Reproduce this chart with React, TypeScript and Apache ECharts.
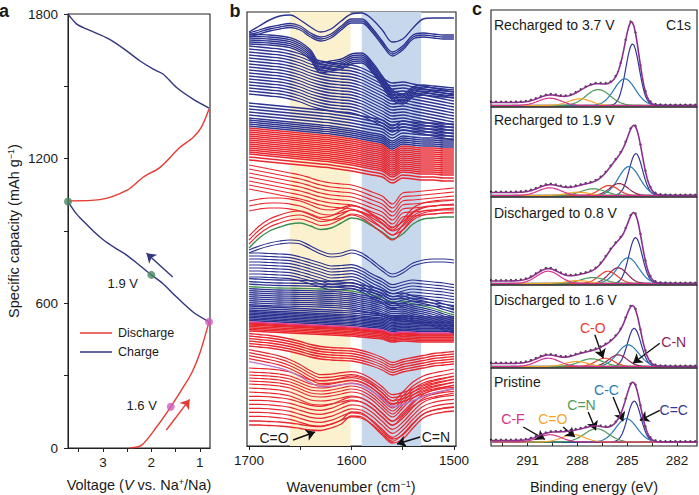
import React, { useEffect, useRef } from 'react';
import * as echarts from 'echarts';

const FONT = '"Liberation Sans", Arial, Helvetica, sans-serif';
const INK = '#1a1a1a';

// ---------- Panel a: voltage profile (V, cumulative capacity mAh/g) ----------
const DISCHARGE_1 = [[2.44, 0], [2.2, 12], [1.89, 88], [1.6, 171], [1.38, 240], [1.17, 310], [1.0, 393], [0.81, 523]];
const CHARGE_1 = [[0.81, 523], [1.14, 564], [1.48, 626], [1.76, 681], [2.0, 718], [2.24, 757], [2.51, 800], [2.75, 830], [3.0, 865], [3.2, 900], [3.4, 940], [3.55, 972], [3.72, 1022]];
const DISCHARGE_2 = [[3.72, 1025], [3.06, 1030], [2.51, 1068], [2.17, 1123], [1.82, 1164], [1.41, 1247], [1.14, 1288], [0.97, 1330], [0.81, 1406]];
const CHARGE_2 = [[0.81, 1410], [1.14, 1447], [1.48, 1495], [1.76, 1551], [1.96, 1571], [2.24, 1606], [2.51, 1647], [2.86, 1695], [3.34, 1738], [3.54, 1758], [3.72, 1800]];
const GREEN_POINTS = [[3.72, 1022], [2.0, 718]];
const PINK_POINTS = [[0.81, 523], [1.6, 171]];
const A_X_LABELS = [1, 2, 3];
const A_X_TICKS = [1, 1.5, 2, 2.5, 3, 3.5];
const A_Y_LABELS = [0, 600, 1200, 1800];
const A_Y_TICKS = [0, 300, 600, 900, 1200, 1500, 1800];

// ---------- Panel b: stacked in-situ FTIR spectra ----------
const WAVENUMBERS = [1700, 1690, 1680, 1670, 1660, 1650, 1640, 1630, 1620, 1610, 1600, 1590, 1580, 1570, 1560, 1550, 1540, 1530, 1520, 1510, 1500];
const B_X_LABELS = [1500, 1600, 1700];
const B_X_TICKS = [1500, 1550, 1600, 1650, 1700];
// representative spectra (stack height units)
const D1_PRISTINE = [21, 21, 20.5, 20, 19, 17.5, 16, 15.5, 18, 22, 30, 29, 21, 11, 3, 7, 18, 28, 32, 34, 35];
const D1_LOW = [33.7, 33.7, 33.2, 32.2, 30.7, 27.7, 24.7, 23.7, 25.7, 29.7, 33.2, 31.7, 25.7, 16.7, 8.7, 15.7, 26.7, 35.7, 39.7, 41.7, 42.7];
const D1_MID = [54, 53.5, 53, 52, 50, 46, 42, 41, 42, 44, 46, 44, 38, 29, 21, 30, 40, 46, 49, 51, 53];
const D1_16V = [84.3, 82.3, 80.3, 77.8, 74.3, 69.3, 63.3, 59.3, 59.8, 61.3, 62.3, 60.3, 54.8, 47.3, 39.3, 41.3, 45.3, 49.3, 52.8, 55.3, 57.7];
const D1_HIGH = [100, 99, 98, 96.5, 94.5, 92, 89, 87, 86, 85.5, 85, 83, 80, 76, 71, 74, 76, 78, 80, 81, 82];
const D1_08V = [124, 123.5, 123, 122.5, 122, 121.5, 121, 120.5, 120, 119.5, 119, 118, 117, 116, 113, 114, 113.5, 113, 113, 113, 113];
const C1_19V = [159.3, 158.8, 158.3, 158, 157.8, 157.7, 157.4, 157, 156.5, 156, 155, 153, 151, 148, 144.3, 145, 142, 140, 137.5, 134, 131];
const C1_HIGH = [181, 181, 180.5, 180, 179.3, 177, 174, 171, 168, 168.5, 169.3, 166, 160, 155, 149.3, 152, 154, 153, 152, 151, 149.3];
const C1_TOP = [196, 200, 203, 205, 206, 205, 200, 195, 192, 193, 196, 193, 186, 178, 172, 176, 183, 186, 187, 187, 186];
const G_37V = [198, 208, 215, 219, 222, 223, 220, 216.5, 218, 223, 228, 226, 220, 214, 207, 212, 222, 227, 228, 229, 229];
const D2_A = [235, 237, 238, 238, 237, 235, 231, 227, 226, 228, 231, 228, 221, 213, 206, 216, 228, 233, 235, 236, 236];
const D2_B = [265, 263, 261, 259, 257, 255, 252, 249, 247, 246, 245, 242, 238, 234, 226, 237, 238, 239, 240, 241, 242];
const D2_C = [300, 299, 298, 297, 296, 295, 294, 293, 292, 290.5, 289, 287, 285, 283, 277, 282, 281, 280, 280, 279, 279];
const C2_MID = [379, 378, 377, 376, 374, 371, 367, 364, 362, 361, 360, 357, 352, 347, 342, 343, 341, 339, 337, 335, 333];
const C2_BAND = [408, 407.5, 407, 406, 404.3, 400, 392, 379, 381, 383, 388, 389, 380, 366, 352, 348, 355, 357, 356, 355, 354];
const C2_UP = [413, 416, 419, 421, 422.5, 420, 413, 409, 412, 420, 427, 427, 418, 405, 394, 400, 411, 413, 412, 411, 411];
const C2_TOP = [414, 420, 426, 430, 431, 426, 419, 414, 417, 425, 432, 433, 427, 416, 404, 407, 418, 427, 428, 428, 428];
// stacking offsets of the spectra drawn around each representative one
const OFF_D1_PRISTINE = [0, 4];
const OFF_D1_LOW = [-4, 0, 4, 8, 12, 16];
const OFF_D1_MID = [0, 4, 8, 11, 14, 17, 20, 24];
const OFF_D1_16V = [3, 6, 9, 12];
const OFF_D1_HIGH = [0, 2.5, 5, 7.5, 10, 12.5];
const OFF_D1_08V = [-9, -7.5, -6, -4.5, -3, -2, -1];
const OFF_C1_LOW = [1.5, 3, 4.5, 6, 7.5, 9, 10.5, 12, 14, 16];
const OFF_C1_19V = [-18, -16, -14, -12, -10, -8, -6, -4, -2, 2.5, 5, 8];
const OFF_C1_HIGH = [-12, -9, -6, -3, 0, 3, 6, 9, 12];
const OFF_C1_TOP = [-3, 0];
const OFF_D2_LOW = [4, 8, 12];
const OFF_D2_A = [0, 5, 10];
const OFF_D2_B = [-8, -4, 0, 4, 8, 12, 16];
const OFF_D2_C = [-14, -11, -8, -6, -4, -2, 0, 2, 4, 6, 8, 10, 12, 14, 16, 18];
const OFF_C2_LOW = [20, 22, 24, 26, 28, 31, 34, 37, 40, 43];
const OFF_C2_MID = [-27, -24, -21, -18, -15, -12, -9, -6, -3, 0, 3, 6, 9, 12, 15, 18, 21];
const OFF_C2_BAND = [-6, -4, -2, 0, 2, 4];
const OFF_C2_UP = [-4, -2, 0];
const YELLOW_BAND = [1660, 1601];
const BLUE_BAND = [1590, 1532];

// ---------- Panel c: C1s XPS fits ----------
const XPS_COMPONENTS = ['C=C', 'C-C', 'C-N', 'C-O', 'C=N', 'C=O', 'C-F'];
const XPS_COLORS = ['#35369a', '#2b7bb1', '#8e2456', '#e8412c', '#509a5c', '#f4a52a', '#d9308f'];
const XPS_FWHM = [0.95, 1.5, 1.3, 1.3, 1.7, 1.6, 1.6];
const XPS_CENTERS_R37 = [284.68, 285.15, 285.6, 286.2, 286.75, 287.85, 289.66];
const XPS_HEIGHTS_R37 = [61.7, 26.7, 0, 0, 16, 6.7, 7.4];
const XPS_CENTERS_R19 = [284.48, 284.89, 285.5, 286.1, 287.05, 287.97, 289.66];
const XPS_HEIGHTS_R19 = [42, 29, 12, 10, 6.7, 3.3, 7.7];
const XPS_CENTERS_D08 = [284.5, 284.95, 285.55, 286.15, 287.07, 288.0, 289.76];
const XPS_HEIGHTS_D08 = [46, 25.7, 15.7, 12.3, 6, 3, 12.3];
const XPS_CENTERS_D16 = [284.58, 284.95, 285.55, 286.35, 287.15, 288.05, 289.76];
const XPS_HEIGHTS_D16 = [38.3, 21.7, 11.7, 8.3, 7.7, 5, 8.3];
const XPS_CENTERS_PRI = [284.58, 285.05, 285.6, 286.2, 286.85, 288.25, 289.66];
const XPS_HEIGHTS_PRI = [41, 23.3, 0, 0, 13.3, 7.3, 7.3];
const XPS_BACKGROUND_STEP = [3, 3, 2.5, 3, 1.5];
const XPS_PANEL_LABELS = ['Recharged to 3.7 V', 'Recharged to 1.9 V', 'Discharged to 0.8 V', 'Discharged to 1.6 V', 'Pristine'];
const C_X_LABELS = [282, 285, 288, 291];
const C_X_TICKS = [282, 283.5, 285, 286.5, 288, 289.5, 291, 292.5];

// layout (pixels)
const C_TOPS = [10, 107, 197, 285, 368];
const C_HEIGHTS = [97, 90, 88, 83, 78];
const C_BASE = [1.5, 1.5, 1.5, 1.5, 4];
const C_LABEL_DY = [15, 13, 16, 15, 14];

const RED = '#e8272f';
const NAVY = '#2c3391';
const GREEN_LINE = '#3f8d50';
const PINK_LINE = '#e33b8f';
const PURPLE_LINE = '#b774cc';

function axisText(size = 13.5) {
  return { fontSize: size, color: INK, fontFamily: FONT };
}

function arrowSeries(xi: number, yi: number, pairs: number[][][], color: string) {
  return {
    type: 'line', xAxisIndex: xi, yAxisIndex: yi, data: [pairs[0][0]], showSymbol: false, silent: true, z: 10,
    lineStyle: { width: 0 },
    markLine: {
      silent: true, symbol: ['none', 'arrow'], symbolSize: 9, animation: false,
      lineStyle: { color, width: 1.4, type: 'solid' }, itemStyle: { color }, label: { show: false }, emphasis: { disabled: true },
      data: pairs.map((p) => [{ coord: p[0] }, { coord: p[1] }]),
    },
  };
}

function buildOption() {
  const series: any[] = [];
  // ---- panel a
  const aLine = (data: number[][], color: string, name: string) => ({
    type: 'line', name, xAxisIndex: 0, yAxisIndex: 0, data, smooth: 0.3, showSymbol: false, silent: true,
    lineStyle: { color, width: 1.4 }, z: 3,
  });
  series.push(aLine(DISCHARGE_1, '#e63a33', 'Discharge'));
  series.push(aLine(CHARGE_1, '#33357f', 'Charge'));
  series.push(aLine(DISCHARGE_2, '#e63a33', 'Discharge'));
  series.push(aLine(CHARGE_2, '#33357f', 'Charge'));
  series.push({ type: 'scatter', xAxisIndex: 0, yAxisIndex: 0, data: GREEN_POINTS, symbolSize: 8, clip: false, silent: true, z: 5, itemStyle: { color: '#4a8a62' } });
  series.push({ type: 'scatter', xAxisIndex: 0, yAxisIndex: 0, data: PINK_POINTS, symbolSize: 8, clip: false, silent: true, z: 5, itemStyle: { color: '#cf5cc2' } });
  series.push(arrowSeries(0, 0, [[[1.56, 709], [2.1, 808]]], '#33357f'));
  series.push(arrowSeries(0, 0, [[[1.69, 74.5], [1.21, 201.5]]], '#e63a33'));

  // ---- panel b
  series.push({
    type: 'line', xAxisIndex: 1, yAxisIndex: 1, data: [[1600, -50]], showSymbol: false, silent: true, z: 1,
    lineStyle: { width: 0 },
    markArea: {
      silent: true, animation: false,
      data: [
        [{ xAxis: YELLOW_BAND[0], itemStyle: { color: '#fcf1cf' } }, { xAxis: YELLOW_BAND[1] }],
        [{ xAxis: BLUE_BAND[0], itemStyle: { color: '#c7d8ec' } }, { xAxis: BLUE_BAND[1] }],
      ],
    },
  });
  const layers: [number[], number[], string, number][] = [
    [D1_PRISTINE, OFF_D1_PRISTINE, RED, 1.3],
    [D1_LOW, OFF_D1_LOW, RED, 1.2],
    [D1_MID, OFF_D1_MID, RED, 1.2],
    [D1_16V, OFF_D1_16V, RED, 1.2],
    [D1_16V, [0], PURPLE_LINE, 1.3],
    [D1_HIGH, OFF_D1_HIGH, RED, 1.3],
    [D1_08V, OFF_D1_08V, RED, 1.5],
    [D1_08V, OFF_C1_LOW, NAVY, 1.4],
    [D1_08V, [0], PINK_LINE, 1.4],
    [C1_19V, OFF_C1_19V, NAVY, 1.3],
    [C1_19V, [0], GREEN_LINE, 1.3],
    [C1_HIGH, OFF_C1_HIGH, NAVY, 1.2],
    [C1_TOP, OFF_C1_TOP, NAVY, 1.2],
    [G_37V, OFF_D2_LOW, RED, 1.2],
    [G_37V, [0], GREEN_LINE, 1.4],
    [D2_A, OFF_D2_A, RED, 1.2],
    [D2_B, OFF_D2_B, RED, 1.2],
    [D2_C, OFF_D2_C, RED, 1.5],
    [D2_C, OFF_C2_LOW, NAVY, 1.4],
    [C2_MID, OFF_C2_MID, NAVY, 1.3],
    [C2_BAND, OFF_C2_BAND, NAVY, 1.4],
    [C2_UP, OFF_C2_UP, NAVY, 1.3],
    [C2_TOP, [0], NAVY, 1.4],
  ];
  layers.forEach(([shape, offs, color, width]) => {
    offs.forEach((off) => {
      series.push({
        type: 'line', xAxisIndex: 1, yAxisIndex: 1, showSymbol: false, silent: true, smooth: 0.35, z: 3,
        data: WAVENUMBERS.map((w, i) => [w, shape[i] + off]),
        lineStyle: { color, width },
      });
    });
  });
  series.push(arrowSeries(1, 1, [[[1657, 6], [1635.6, 14]], [[1533, 9], [1555.6, 2]]], '#111'));

  // ---- panel c
  const XS: number[] = [];
  for (let k = 0; k <= 124; k++) XS.push(+(280.8 + k * 0.1).toFixed(2));
  const centersAll = [XPS_CENTERS_R37, XPS_CENTERS_R19, XPS_CENTERS_D08, XPS_CENTERS_D16, XPS_CENTERS_PRI];
  const heightsAll = [XPS_HEIGHTS_R37, XPS_HEIGHTS_R19, XPS_HEIGHTS_D08, XPS_HEIGHTS_D16, XPS_HEIGHTS_PRI];
  const g = (x: number, c: number, h: number, w: number) => h * Math.exp(-4 * Math.LN2 * ((x - c) / w) ** 2);
  for (let p = 0; p < 5; p++) {
    const gi = 2 + p;
    const cs = centersAll[p];
    const hs = heightsAll[p];
    series.push({
      type: 'line', xAxisIndex: gi, yAxisIndex: gi, showSymbol: false, silent: true, z: 2,
      data: [[280.8, 0], [293.2, 0]], lineStyle: { color: '#111', width: 1.6 },
    });
    for (let k = 0; k < XPS_COMPONENTS.length; k++) {
      if (hs[k] <= 0) continue;
      series.push({
        type: 'line', name: XPS_COMPONENTS[k], xAxisIndex: gi, yAxisIndex: gi, showSymbol: false, silent: true, z: 3,
        data: XS.map((x) => [x, g(x, cs[k], hs[k], XPS_FWHM[k])]),
        lineStyle: { color: XPS_COLORS[k], width: 1.2 },
      });
    }
    const env = XS.map((x) => {
      let s = XPS_BACKGROUND_STEP[p] / (1 + Math.exp(-(x - 285.3) / 0.45));
      for (let k = 0; k < XPS_COMPONENTS.length; k++) if (hs[k] > 0) s += g(x, cs[k], hs[k], XPS_FWHM[k]);
      return [x, s];
    });
    series.push({
      type: 'scatter', xAxisIndex: gi, yAxisIndex: gi, silent: true, z: 4, symbolSize: 2.4,
      data: env.filter((_, i) => i % 3 === 1).map(([x, y]) => [x, y + 0.8]), itemStyle: { color: '#111' },
    });
    series.push({
      type: 'line', xAxisIndex: gi, yAxisIndex: gi, showSymbol: false, silent: true, z: 5,
      data: env, lineStyle: { color: '#8a2f8c', width: 1.6 },
    });
  }
  series.push(arrowSeries(5, 5, [[[286.95, 31.7], [286.45, 8.3]], [[283.04, 23.3], [284.65, 3.3]]], '#111'));
  series.push(arrowSeries(6, 6, [
    [[291.26, 15], [289.96, 2.7]], [[288.86, 15], [288.15, 5]], [[287.35, 30], [286.89, 11.7]],
    [[285.85, 45], [285.25, 20.7]], [[283.04, 31.7], [284.24, 21.7]],
  ], '#111'));

  const gridBase = { show: true, borderColor: '#222', borderWidth: 1.1, backgroundColor: 'transparent', containLabel: false };
  const grid: any[] = [
    { ...gridBase, left: 68, top: 14, width: 142, height: 434 },
    { ...gridBase, left: 247, top: 12, width: 209, height: 434 },
  ];
  for (let p = 0; p < 5; p++) grid.push({ ...gridBase, left: 491, top: C_TOPS[p], width: 206, height: C_HEIGHTS[p] });

  const fmt = (v: number) => String(v);
  const tick = { show: true, length: 4, lineStyle: { color: '#222', width: 1 } };
  const xAxis: any[] = [
    {
      gridIndex: 0, type: 'value', inverse: true, min: 0.79, max: 3.72,
      axisLine: { show: true, lineStyle: { color: '#222' } }, splitLine: { show: false },
      axisTick: { ...tick, customValues: A_X_TICKS }, axisLabel: { ...axisText(), margin: 7, customValues: A_X_LABELS, formatter: fmt },
    },
    {
      gridIndex: 1, type: 'value', inverse: true, min: 1498, max: 1702,
      axisLine: { show: true, lineStyle: { color: '#222' } }, splitLine: { show: false },
      axisTick: { ...tick, customValues: B_X_TICKS }, axisLabel: { ...axisText(), margin: 7, customValues: B_X_LABELS, formatter: fmt },
    },
  ];
  const yAxis: any[] = [
    {
      gridIndex: 0, type: 'value', min: 0, max: 1800,
      axisLine: { show: true, lineStyle: { color: '#222' } }, splitLine: { show: false },
      axisTick: { ...tick, customValues: A_Y_TICKS }, axisLabel: { ...axisText(), margin: 10, customValues: A_Y_LABELS, formatter: fmt },
    },
    { gridIndex: 1, type: 'value', show: false, min: 0, max: 434 },
  ];
  for (let p = 0; p < 5; p++) {
    const last = p === 4;
    xAxis.push({
      gridIndex: 2 + p, type: 'value', inverse: true, min: 280.8, max: 293.2, show: last,
      axisLine: { show: true, lineStyle: { color: '#222' } }, splitLine: { show: false },
      axisTick: { ...tick, customValues: C_X_TICKS }, axisLabel: { ...axisText(), margin: 7, customValues: C_X_LABELS, formatter: fmt },
    });
    yAxis.push({ gridIndex: 2 + p, type: 'value', show: false, min: -C_BASE[p], max: C_HEIGHTS[p] - C_BASE[p] });
  }

  return { animation: false, backgroundColor: '#ffffff', grid, xAxis, yAxis, series };
}

function txt(text: string, x: number, y: number, opts: any = {}) {
  return {
    type: 'text', x, y, silent: true, z: 20,
    style: { text, fill: opts.color || INK, fontSize: opts.size || 14, fontFamily: FONT, fontWeight: opts.weight || 'normal', align: opts.align || 'center', verticalAlign: 'middle' },
  };
}

function richTxt(text: string, x: number, y: number, size: number, rotation = 0) {
  return {
    type: 'text', x, y, rotation, silent: true, z: 20,
    style: {
      text, align: 'center', verticalAlign: 'middle', fontFamily: FONT, fontSize: size, fill: INK,
      rich: {
        n: { fontSize: size, fontFamily: FONT, fill: INK, verticalAlign: 'bottom' },
        i: { fontSize: size, fontFamily: FONT, fill: INK, fontStyle: 'italic', verticalAlign: 'bottom' },
        s: { fontSize: size * 0.62, fontFamily: FONT, fill: INK, verticalAlign: 'top' },
      },
    },
  };
}

export default function App() {
  const ref = useRef<HTMLDivElement>(null);
  useEffect(() => {
    if (!ref.current) return;
    const chart = echarts.init(ref.current, null, { renderer: 'svg' });
    chart.setOption(buildOption() as any);
    const P = (gi: number, x: number, y: number) => chart.convertToPixel({ gridIndex: gi } as any, [x, y]) as unknown as number[];
    const graphic: any[] = [];
    graphic.push(txt('a', 4, 11, { size: 18, weight: 'bold' }));
    graphic.push(txt('b', 235, 11, { size: 18, weight: 'bold' }));
    graphic.push(txt('c', 477, 9, { size: 18, weight: 'bold' }));
    graphic.push(richTxt('{n|Voltage (}{i|V}{n| vs. Na}{s|+}{n|/Na)}', 139, 485, 14.5));
    graphic.push(richTxt('{n|Specific capacity (mAh g}{s|−1}{n|)}', 14, 231, 14.5, Math.PI / 2));
    graphic.push(richTxt('{n|Wavenumber (cm}{s|−1}{n|)}', 351, 487, 14.5));
    graphic.push(richTxt('{n|Binding energy (eV)}', 594, 487, 14.5));
    // legend (panel a)
    graphic.push({ type: 'line', silent: true, z: 20, shape: { x1: 80, y1: 333, x2: 112, y2: 333 }, style: { stroke: '#e63a33', lineWidth: 1.5 } });
    graphic.push({ type: 'line', silent: true, z: 20, shape: { x1: 80, y1: 352, x2: 112, y2: 352 }, style: { stroke: '#33357f', lineWidth: 1.5 } });
    graphic.push(txt('Discharge', 118, 333, { size: 12.5, align: 'left' }));
    graphic.push(txt('Charge', 118, 352, { size: 12.5, align: 'left' }));
    let q = P(0, 2.59, 683); graphic.push(txt('1.9 V', q[0], q[1], { size: 13 }));
    q = P(0, 2.2, 178); graphic.push(txt('1.6 V', q[0], q[1], { size: 13 }));
    q = P(1, 1675.6, 8); graphic.push(txt('C=O', q[0], q[1], { size: 14 }));
    q = P(1, 1517.6, 9); graphic.push(txt('C=N', q[0], q[1], { size: 14 }));
    for (let p = 0; p < 5; p++) graphic.push(txt(XPS_PANEL_LABELS[p], 494, C_TOPS[p] + C_LABEL_DY[p], { size: 14, align: 'left' }));
    graphic.push(txt('C1s', 691, 25, { size: 14, align: 'right' }));
    const ann: [number, string, number, number, string][] = [
      [5, 'C-O', 287.07, 38.3, XPS_COLORS[3]],
      [5, 'C-N', 282.2, 25, XPS_COLORS[2]],
      [6, 'C-F', 291.88, 23.3, XPS_COLORS[6]],
      [6, 'C=O', 289.48, 23.3, XPS_COLORS[5]],
      [6, 'C=N', 287.75, 36.7, XPS_COLORS[4]],
      [6, 'C-C', 286.25, 51.7, XPS_COLORS[1]],
      [6, 'C=C', 282.2, 31.7, XPS_COLORS[0]],
    ];
    ann.forEach(([gi, t, x, y, c]) => { const r = P(gi, x, y); graphic.push(txt(t, r[0], r[1], { size: 14, color: c })); });
    chart.setOption({ graphic } as any);
    return () => chart.dispose();
  }, []);
  return <div ref={ref} style={{ position: 'absolute', left: 0, top: 0, width: 699, height: 495 }} />;
}
